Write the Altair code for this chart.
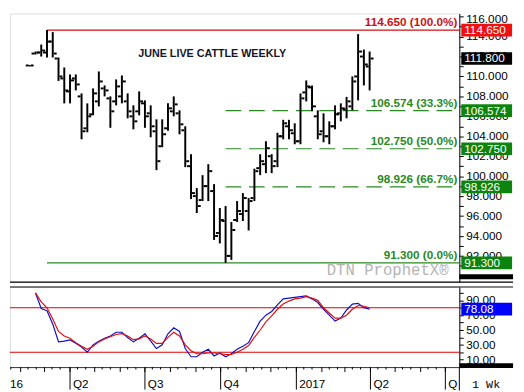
import altair as alt
import pandas as pd

# ---------------- data ----------------
bar_dates = pd.date_range("2016-02-12", periods=60, freq="7D")
opens = [111.1, 112.3, 112.4, 112.4, 113.5, 111.8, 109.8, 108.5, 109.8, 108.0,
         104.8, 106.2, 107.5, 108.8, 107.8, 107.5, 108.0, 107.5, 106.0, 106.5,
         107.3, 106.3, 104.5, 103.0, 104.8, 106.5, 106.3, 104.6, 101.0, 98.0,
         97.6, 99.0, 98.5, 94.3, 95.5, 92.0, 95.6, 96.2, 96.5, 97.8,
         100.8, 101.2, 102.0, 101.5, 104.0, 105.0, 104.3, 103.5, 108.4, 108.9,
         106.0, 104.5, 104.0, 105.0, 106.3, 106.7, 107.0, 110.0, 112.0, 111.0]
highs = [111.15, 112.5, 113.2, 114.65, 114.45, 111.9, 110.9, 110.2, 110.2, 108.3,
         107.3, 108.8, 110.5, 109.1, 108.0, 109.7, 110.1, 108.3, 107.1, 108.5,
         107.6, 107.1, 105.7, 105.7, 107.3, 108.0, 106.6, 105.0, 102.2, 98.8,
         100.1, 101.2, 99.2, 96.8, 97.0, 95.4, 97.5, 98.3, 97.8, 100.75,
         102.2, 103.5, 102.2, 104.35, 105.65, 105.65, 105.3, 108.3, 109.6, 109.1,
         106.6, 106.3, 105.5, 107.1, 107.3, 107.95, 110.0, 114.25, 112.7, 112.5]
lows = [111.0, 112.2, 112.0, 111.9, 111.9, 109.55, 107.3, 107.3, 108.6, 103.7,
        104.4, 106.1, 107.0, 108.0, 104.85, 107.1, 107.3, 105.8, 104.7, 106.1,
        104.85, 103.9, 100.6, 102.9, 104.55, 106.0, 104.2, 100.9, 97.7, 96.3,
        97.5, 97.5, 93.6, 93.25, 91.3, 91.6, 95.4, 95.5, 94.55, 97.5,
        100.1, 100.3, 100.3, 100.9, 103.7, 103.7, 103.2, 103.2, 107.5, 106.5,
        103.7, 103.4, 103.2, 104.7, 105.5, 105.8, 106.6, 107.6, 109.1, 108.6]
closes = [111.1, 112.4, 112.6, 113.5, 112.3, 110.0, 108.6, 109.6, 109.2, 104.5,
          106.0, 108.3, 109.5, 108.6, 106.5, 109.0, 109.5, 106.5, 105.5, 107.5,
          106.0, 105.0, 101.5, 104.2, 106.8, 107.2, 105.2, 101.5, 98.3, 97.0,
          99.0, 100.5, 94.0, 95.6, 92.0, 94.6, 96.5, 97.8, 97.5, 100.5,
          101.5, 102.8, 101.0, 104.0, 105.3, 104.6, 103.5, 107.8, 109.0, 107.0,
          104.2, 104.0, 105.0, 106.2, 106.8, 107.5, 109.5, 112.5, 111.2, 111.8]

# stochastic (starts at the second bar)
stoch_k = [100, 79, 76, 58, 34, 35, 36.6, 32, 27, 20, 30, 35, 39, 42, 47, 47, 40, 34, 39, 45,
           35, 25, 30, 45, 53, 48, 25, 14, 14, 20, 24, 15, 19, 14, 18, 24, 28, 33, 48, 62,
           70, 75, 84, 92, 93, 94, 95, 96, 92, 87, 78, 70, 62, 66, 77, 85, 86, 80, 78.08]
stoch_d = [100, 88, 80, 65, 48, 42, 39, 33, 28, 24, 28, 34, 38, 41, 44, 45, 42, 37, 38, 42,
           38, 32, 32, 40, 47, 42, 30, 22, 18, 18, 19, 19, 18, 17, 17, 20, 24, 29, 40, 50,
           61, 69, 78, 85, 89, 92, 93, 95, 93, 90, 80, 73, 66, 66, 70, 78, 83, 82, 80]

RED = "#d01010"
GREEN = "#2a8a22"
fib_levels = [114.65, 106.574, 102.75, 98.926, 91.3]
fib_texts = ["114.650 (100.0%)", "106.574 (33.3%)", "102.750 (50.0%)", "98.926 (66.7%)", "91.300 (0.0%)"]
fib_start = ["2016-03-04", "2016-10-07", "2016-10-07", "2016-10-07", "2016-03-04"]
fib_colors = [RED, GREEN, GREEN, GREEN, GREEN]
fib_dashed = [False, True, True, True, False]

tag_values = [114.65, 111.8, 106.574, 102.75, 98.926, 91.3]
tag_texts = ["114.650", "111.800", "106.574", "102.750", "98.926", "91.300"]
tag_colors = ["#f01010", "#000000", "#0d840d", "#0d840d", "#0d840d", "#0d840d"]

price_tick_values = [92, 94, 96, 98, 100, 102, 104, 106, 108, 110, 112, 114]
price_tick_labels = ["92.000", "94.000", "96.000", "98.000", "100.000", "102.000", "104.000",
                     "106.000", "108.000", "110.000", "112.000", "114.000"]
price_top_value = [116]
price_top_label = ["116.000"]
stoch_tick_values = [10, 30, 50, 70, 90]
stoch_tick_labels = ["10.00", "30.00", "50.00", "70.00", "90.00"]

stoch_levels = [80, 20]
stoch_tag_value = [78.08]
stoch_tag_text = ["78.08"]

quarter_dates = ["2016-04-01", "2016-07-01", "2016-10-01", "2017-01-01", "2017-04-01", "2017-07-01"]
quarter_labels = ["Q2", "Q3", "Q4", "2017", "Q2", "Q"]
month_dates = pd.date_range("2016-02-01", "2017-07-01", freq="MS")
small_dates = [d + pd.Timedelta(days=k) for d in pd.date_range("2016-01-01", "2017-06-01", freq="MS")
               for k in (9, 19)]

# ---------------- frames ----------------
bars = pd.DataFrame({"date": bar_dates, "open": opens, "high": highs, "low": lows, "close": closes})
stoch = pd.DataFrame({"date": bar_dates[1:], "k": stoch_k, "d": stoch_d})
fib = pd.DataFrame({"level": fib_levels, "text": fib_texts, "start": pd.to_datetime(fib_start),
                    "color": fib_colors, "dashed": fib_dashed})
tags = pd.DataFrame({"v": tag_values, "t": tag_texts, "c": tag_colors})
plabs = pd.DataFrame({"v": price_tick_values, "t": price_tick_labels})
ptop = pd.DataFrame({"v": price_top_value, "t": price_top_label})
slabs = pd.DataFrame({"v": stoch_tick_values, "t": stoch_tick_labels})
slev = pd.DataFrame({"v": stoch_levels})
stag = pd.DataFrame({"v": stoch_tag_value, "t": stoch_tag_text})
qd = pd.DataFrame({"date": pd.to_datetime(quarter_dates), "t": quarter_labels})
md = pd.DataFrame({"date": month_dates})
sd = pd.DataFrame({"date": small_dates})
sd = sd[(sd["date"] > pd.Timestamp("2016-01-19")) & (sd["date"] < pd.Timestamp("2017-07-18"))]
one = pd.DataFrame({"a": [0]})

W, H1, H2 = 460, 275, 82
FONT = "Liberation Sans"
BOX = "M-1,-0.25L1,-0.25L1,0.25L-1,0.25Z"

xscale = alt.Scale(domain=[alt.DateTime(year=2016, month=1, date=19),
                           alt.DateTime(year=2017, month=7, date=18)], padding=0)
yscale = alt.Scale(domain=[89.37, 116.32], nice=False, zero=False, padding=0)
sscale = alt.Scale(domain=[0, 108], nice=False, zero=False, padding=0)

yaxis = alt.Axis(orient="right", values=list(range(90, 117)), title=None, grid=False,
                 labels=False, tickSize=4, domainColor="black", tickColor="black")
saxis = alt.Axis(orient="right", values=list(range(0, 101, 10)), title=None, grid=False,
                 labels=False, tickSize=4, domainColor="black", tickColor="black")
xaxis = alt.Axis(title=None, grid=False, labels=False, ticks=False, domainColor="#333333")

X = alt.X("date:T", scale=xscale, axis=None)

# ---------------- price panel ----------------
hl = alt.Chart(bars).mark_rule(strokeWidth=2, color="black").encode(
    x=X, y=alt.Y("low:Q", scale=yscale, axis=yaxis), y2="high:Q")
op = alt.Chart(bars).mark_tick(orient="horizontal", size=3, thickness=2, color="black",
                               opacity=1, xOffset=-2.5).encode(x=X, y=alt.Y("open:Q", scale=yscale, axis=yaxis))
cl = alt.Chart(bars).mark_tick(orient="horizontal", size=3, thickness=2, color="black",
                               opacity=1, xOffset=2.5).encode(x=X, y=alt.Y("close:Q", scale=yscale, axis=yaxis))

fib_solid = alt.Chart(fib).transform_filter("!datum.dashed").mark_rule(strokeWidth=1.2).encode(
    x=alt.X("start:T", scale=xscale, axis=None), x2=alt.value(W),
    y=alt.Y("level:Q", scale=yscale, axis=yaxis), color=alt.Color("color:N", scale=None))
fib_dash = alt.Chart(fib).transform_filter("datum.dashed").mark_rule(strokeWidth=1.2, strokeDash=[16, 8]).encode(
    x=alt.X("start:T", scale=xscale, axis=None), x2=alt.value(W),
    y=alt.Y("level:Q", scale=yscale, axis=yaxis), color=alt.Color("color:N", scale=None))
fib_lab = alt.Chart(fib).mark_text(align="right", baseline="middle", dy=-8, fontSize=12,
                                   fontWeight="bold", font=FONT).encode(
    x=alt.value(W - 2), y=alt.Y("level:Q", scale=yscale, axis=yaxis), text="text:N",
    color=alt.Color("color:N", scale=None))

plab = alt.Chart(plabs).mark_text(align="left", baseline="middle", fontSize=12, font=FONT,
                                  color="black").encode(
    x=alt.value(W + 7), y=alt.Y("v:Q", scale=yscale, axis=yaxis), text="t:N")
ptl = alt.Chart(ptop).mark_text(align="left", baseline="middle", fontSize=12, font=FONT,
                                color="black", dy=3).encode(
    x=alt.value(W + 7), y=alt.Y("v:Q", scale=yscale, axis=yaxis), text="t:N")
tag_box = alt.Chart(tags).mark_point(shape=BOX, filled=True, size=2704, opacity=1, strokeWidth=0).encode(
    x=alt.value(W + 28), y=alt.Y("v:Q", scale=yscale, axis=yaxis), color=alt.Color("c:N", scale=None))
tag_txt = alt.Chart(tags).mark_text(align="left", baseline="middle", fontSize=12, color="white",
                                    font=FONT).encode(
    x=alt.value(W + 5), y=alt.Y("v:Q", scale=yscale, axis=yaxis), text="t:N")

title = alt.Chart(one).mark_text(text="JUNE LIVE CATTLE WEEKLY", fontSize=11, fontWeight="bold",
                                 font=FONT, color="#15152a", align="center", baseline="middle").encode(
    x=alt.value(207), y=alt.value(42))
dtn = alt.Chart(one).mark_text(text="DTN ProphetX®", fontSize=16, font="Liberation Mono",
                               color="#b4b4b4", align="right", baseline="middle").encode(
    x=alt.value(449), y=alt.value(263))
sep1 = alt.Chart(one).mark_rule(color="black", strokeWidth=1.2).encode(
    x=alt.value(0), x2=alt.value(W + 55), y=alt.value(H1))
blk1 = alt.Chart(one).mark_rule(color="black", strokeWidth=5).encode(
    x=alt.value(W), x2=alt.value(W + 55), y=alt.value(H1 - 5.5))

price = alt.layer(fib_solid, fib_dash, hl, op, cl, fib_lab, plab, ptl, tag_box, tag_txt, title, dtn,
                  sep1, blk1).properties(width=W, height=H1)

# ---------------- stochastic panel ----------------
XS = alt.X("date:T", scale=xscale, axis=xaxis)
lev = alt.Chart(slev).mark_rule(color="#e00000", strokeWidth=1.2).encode(
    x=alt.value(0), x2=alt.value(W), y=alt.Y("v:Q", scale=sscale, axis=saxis))
kline = alt.Chart(stoch).mark_line(color="#1010c0", strokeWidth=1.2).encode(
    x=XS, y=alt.Y("k:Q", scale=sscale, axis=saxis))
dline = alt.Chart(stoch).mark_line(color="#e01010", strokeWidth=1.2).encode(
    x=XS, y=alt.Y("d:Q", scale=sscale, axis=saxis))
slab = alt.Chart(slabs).mark_text(align="left", baseline="middle", fontSize=12, font=FONT,
                                  color="black").encode(
    x=alt.value(W + 7), y=alt.Y("v:Q", scale=sscale, axis=saxis), text="t:N")
sbox = alt.Chart(stag).mark_point(shape=BOX, filled=True, size=2704, opacity=1, strokeWidth=0,
                                  color="#0000ff").encode(
    x=alt.value(W + 28), y=alt.Y("v:Q", scale=sscale, axis=saxis))
stxt = alt.Chart(stag).mark_text(align="left", baseline="middle", fontSize=12, color="white",
                                 font=FONT).encode(
    x=alt.value(W + 5), y=alt.Y("v:Q", scale=sscale, axis=saxis), text="t:N")
major = alt.Chart(qd).mark_rule(color="black").encode(
    x=alt.X("date:T", scale=xscale, axis=xaxis), y=alt.value(H2), y2=alt.value(H2 + 23))
qlab = alt.Chart(qd).mark_text(align="left", baseline="middle", fontSize=12, font=FONT,
                               color="black", dx=3).encode(
    x=alt.X("date:T", scale=xscale, axis=xaxis), y=alt.value(H2 + 17), text="t:N")
medium = alt.Chart(md).mark_rule(color="black").encode(
    x=alt.X("date:T", scale=xscale, axis=xaxis), y=alt.value(H2), y2=alt.value(H2 + 5))
small = alt.Chart(sd).mark_rule(color="black").encode(
    x=alt.X("date:T", scale=xscale, axis=xaxis), y=alt.value(H2), y2=alt.value(H2 + 2.5))
vline = alt.Chart(one).mark_rule(color="black").encode(
    x=alt.value(W), y=alt.value(H2), y2=alt.value(H2 + 24))
sep2 = alt.Chart(one).mark_rule(color="black", strokeWidth=1).encode(
    x=alt.value(0), x2=alt.value(W + 55), y=alt.value(0))
blk2 = alt.Chart(one).mark_rule(color="black", strokeWidth=5).encode(
    x=alt.value(W), x2=alt.value(W + 55), y=alt.value(H2 - 1.5))
t16 = alt.Chart(one).mark_text(text="16", fontSize=12, font=FONT, align="left",
                               baseline="middle", color="black").encode(
    x=alt.value(0), y=alt.value(H2 + 17))
wk = alt.Chart(one).mark_text(text="1 Wk", fontSize=12, font="Liberation Mono", align="left",
                              baseline="middle", color="black").encode(
    x=alt.value(W + 13), y=alt.value(H2 + 17))

stochc = alt.layer(lev, kline, dline, slab, sbox, stxt, major, qlab, medium, small, vline, sep2,
                   blk2, t16, wk).properties(width=W, height=H2)

chart = alt.vconcat(price, stochc, spacing=2).properties(
    padding=0, background="white"
).configure_view(stroke=None).configure(font=FONT)

chart.save("out.html", embed_options={"renderer": "svg", "actions": False})
